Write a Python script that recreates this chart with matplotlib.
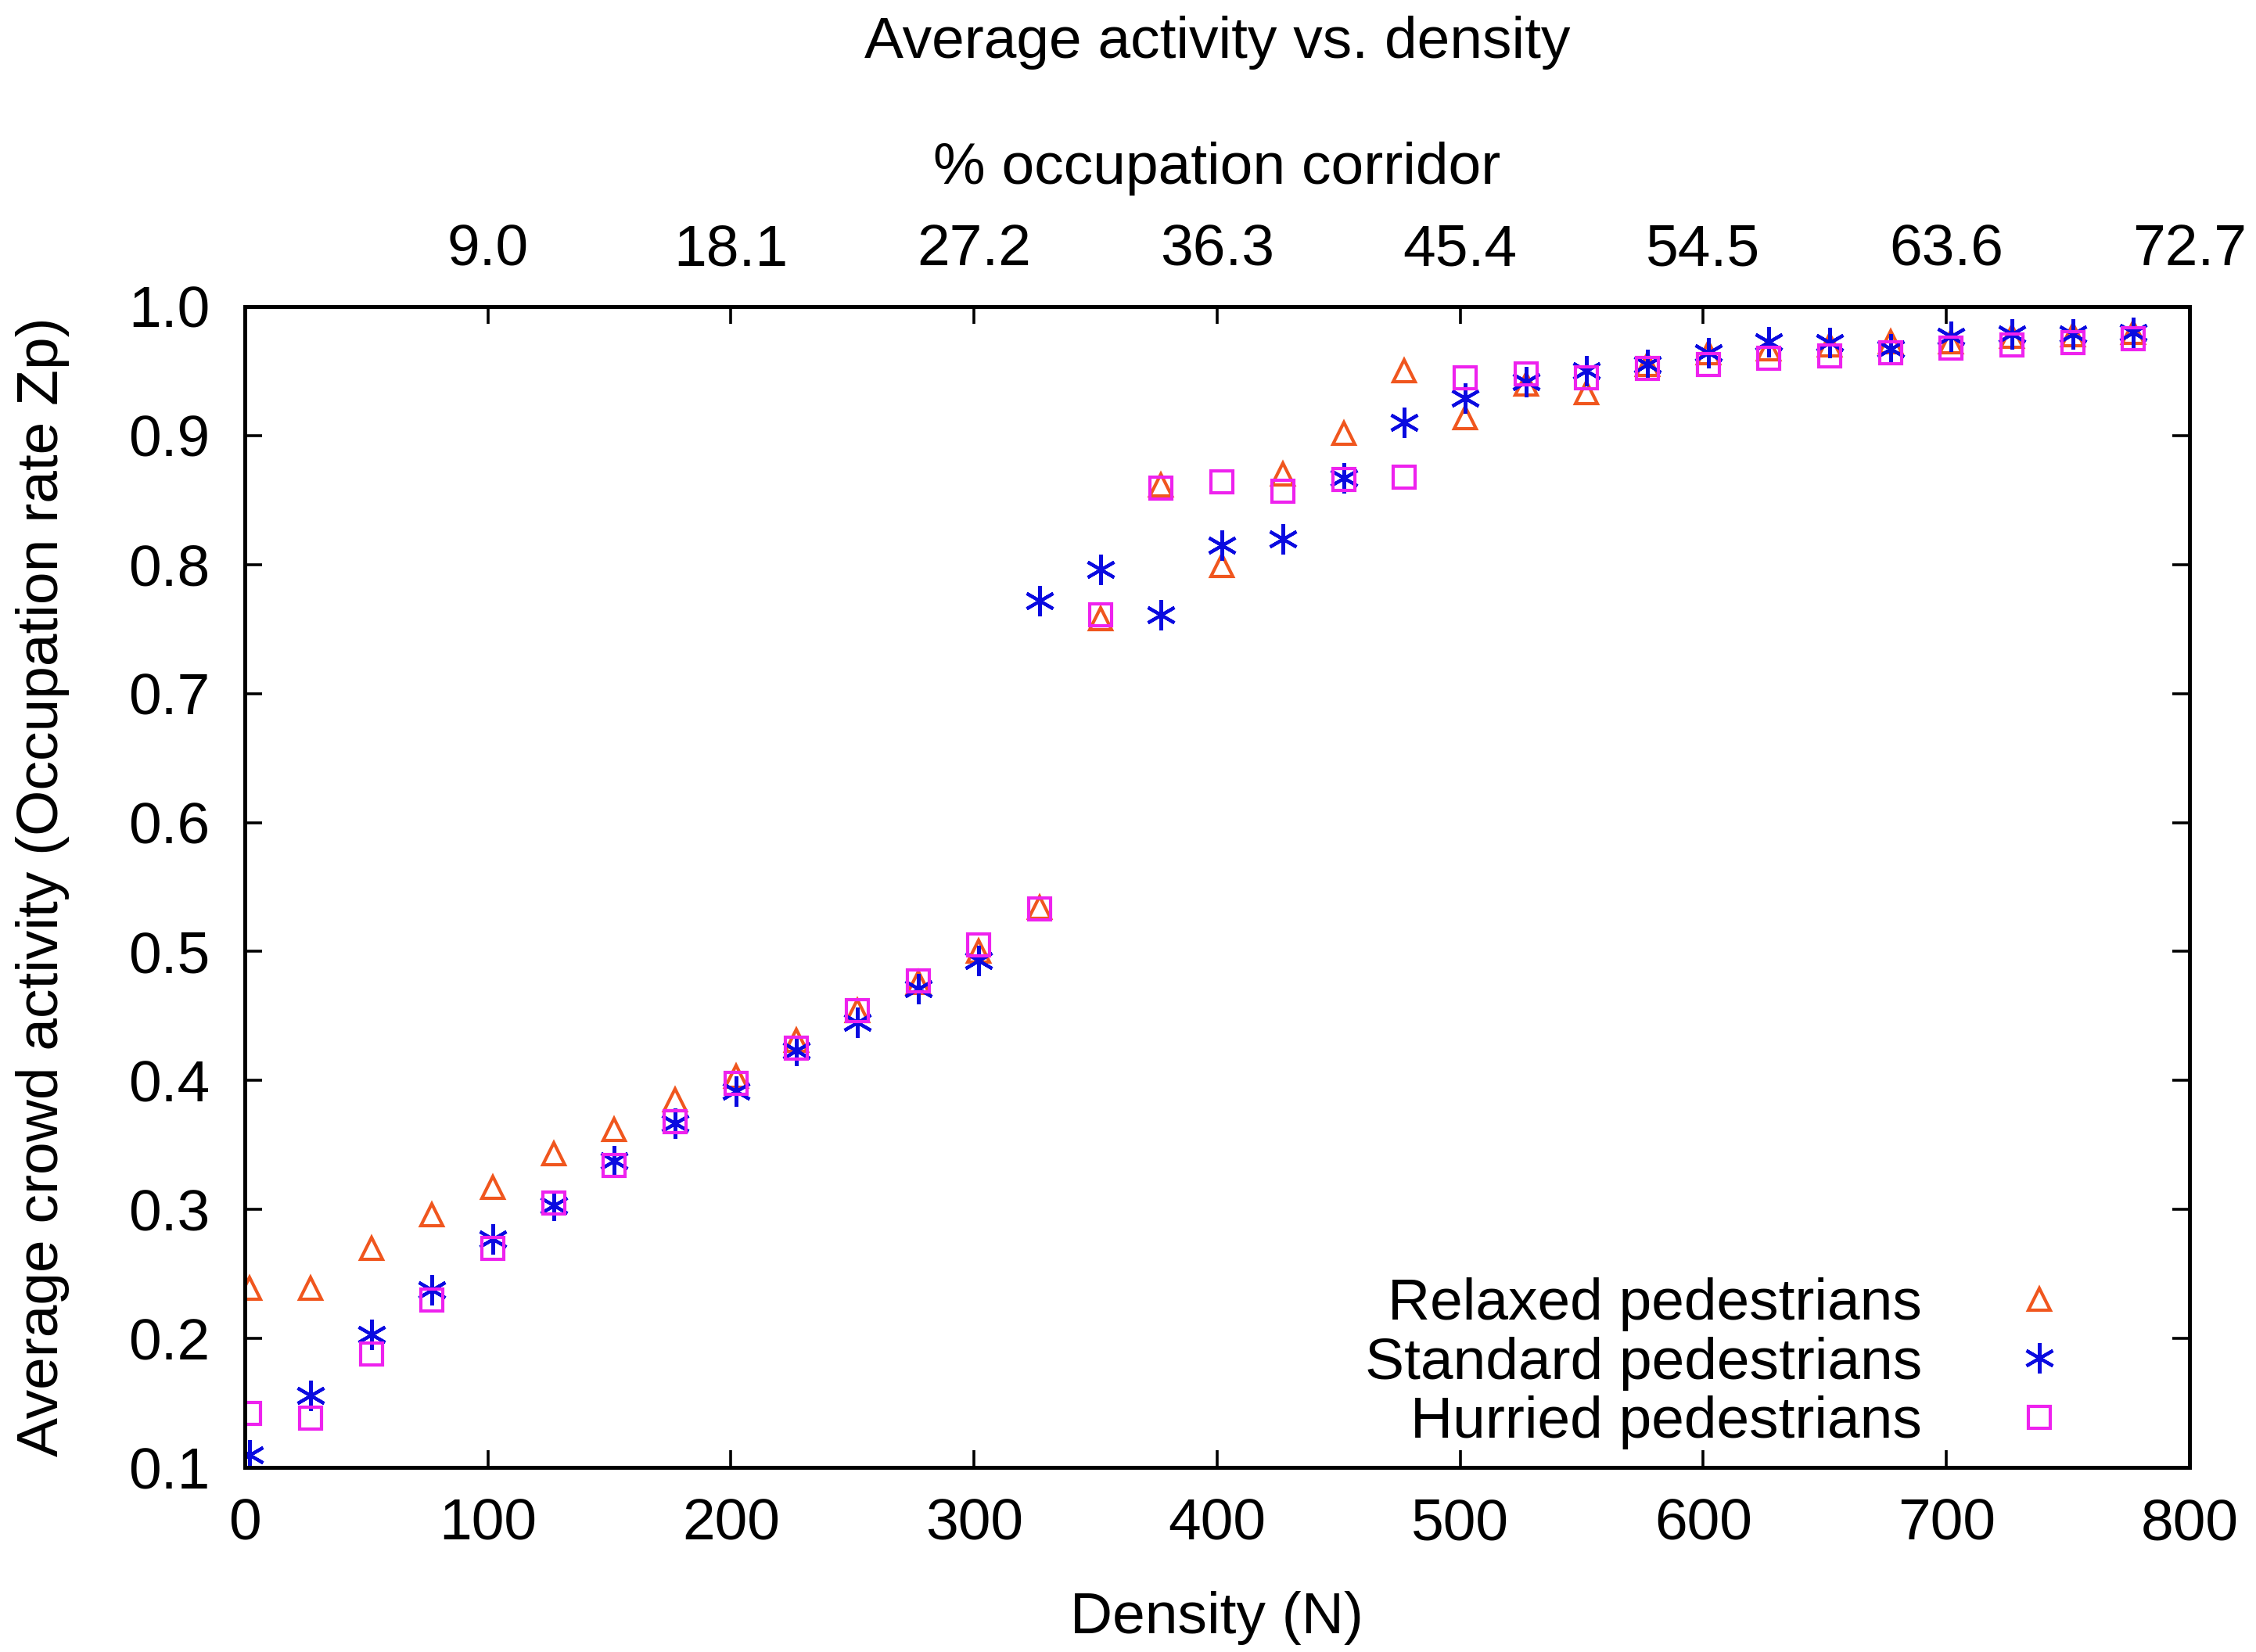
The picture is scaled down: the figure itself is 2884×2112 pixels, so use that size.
import matplotlib
matplotlib.use("Agg")
import matplotlib.pyplot as plt

plt.rcParams['font.family'] = ['Liberation Sans', 'DejaVu Sans']

# density N
density = [2, 27, 52, 77, 102, 127, 152, 177, 202, 227, 252, 277, 302, 327, 352, 377,
           402, 427, 452, 477, 502, 527, 552, 577, 602, 627, 652, 677, 702, 727, 752, 777]

relaxed = [0.239, 0.239, 0.270, 0.296, 0.317, 0.343, 0.362, 0.385, 0.403, 0.431, 0.454, 0.476,
           0.500, 0.534, 0.758, 0.862, 0.799, 0.870, 0.902, 0.950, 0.914, 0.940, 0.933, 0.955,
           0.964, 0.967, 0.970, 0.973, 0.973, 0.977, 0.978, 0.980]

standard = [0.110, 0.156, 0.203, 0.238, 0.277, 0.303, 0.338, 0.367, 0.392, 0.423, 0.445, 0.471,
            0.493, 0.772, 0.796, 0.761, 0.815, 0.820, 0.867, 0.910, 0.929, 0.942, 0.950, 0.955,
            0.964, 0.973, 0.972, 0.967, 0.977, 0.979, 0.979, 0.980]

hurried = [0.142, 0.138, 0.188, 0.230, 0.270, 0.305, 0.334, 0.368, 0.398, 0.425, 0.454, 0.477,
           0.505, 0.533, 0.761, 0.859, 0.864, 0.857, 0.866, 0.868, 0.945, 0.948, 0.945, 0.952,
           0.955, 0.960, 0.962, 0.964, 0.968, 0.970, 0.972, 0.975]

bottom_ticks = [0, 100, 200, 300, 400, 500, 600, 700, 800]
top_ticks = [100, 200, 300, 400, 500, 600, 700, 800]
top_labels = ['9.0', '18.1', '27.2', '36.3', '45.4', '54.5', '63.6', '72.7']
y_ticks = [0.1, 0.2, 0.3, 0.4, 0.5, 0.6, 0.7, 0.8, 0.9, 1.0]

fs = 27

fig = plt.figure(figsize=(14.42, 10.56), dpi=200)
ax = fig.add_axes([0.1085, 0.1117, 0.862, 0.7027])

mk = dict(linestyle='none', fillstyle='none', markeredgewidth=1.5)
ax.plot(density, relaxed, marker='^', markersize=10, color='#f0561e',
        label='Relaxed pedestrians', **mk)
ax.plot(density, standard, marker=(6, 2, 0), markersize=14, color='#0a0ae0',
        label='Standard pedestrians', **mk)
ax.plot(density, hurried, marker='s', markersize=10, color='#ee22ee',
        label='Hurried pedestrians', **mk)

ax.set_xlim(0, 800)
ax.set_ylim(0.1, 1.0)
ax.set_xticks(bottom_ticks)
ax.set_yticks(y_ticks)
ax.set_yticklabels(['%.1f' % v for v in y_ticks])
ax.tick_params(axis='both', direction='in', length=8, width=1.3, labelsize=fs)
ax.tick_params(axis='x', pad=14, top=False)
ax.tick_params(axis='y', pad=16, right=True)
for s in ax.spines.values():
    s.set_linewidth(1.8)

ax.set_xlabel('Density (N)', fontsize=fs, labelpad=18)
ax.set_ylabel('Average crowd activity (Occupation rate Zp)', fontsize=fs, labelpad=27)

ax2 = ax.twiny()
ax2.set_xlim(0, 800)
ax2.set_xticks(top_ticks)
ax2.set_xticklabels(top_labels)
ax2.tick_params(axis='x', direction='in', length=8, width=1.3, labelsize=fs, pad=13.5)
ax2.set_xlabel('% occupation corridor', fontsize=fs, labelpad=18)

fig.text(0.5395, 0.974, 'Average activity vs. density', fontsize=fs,
         ha='center', va='center')

leg = ax.legend(loc='lower right', bbox_to_anchor=(0.974, -0.02), fontsize=fs,
                frameon=False, markerfirst=False, labelspacing=0.09,
                handletextpad=1.0, borderaxespad=0.3)
for t in leg.get_texts():
    t.set_ha('right')

fig.savefig('out.png', dpi=200)
